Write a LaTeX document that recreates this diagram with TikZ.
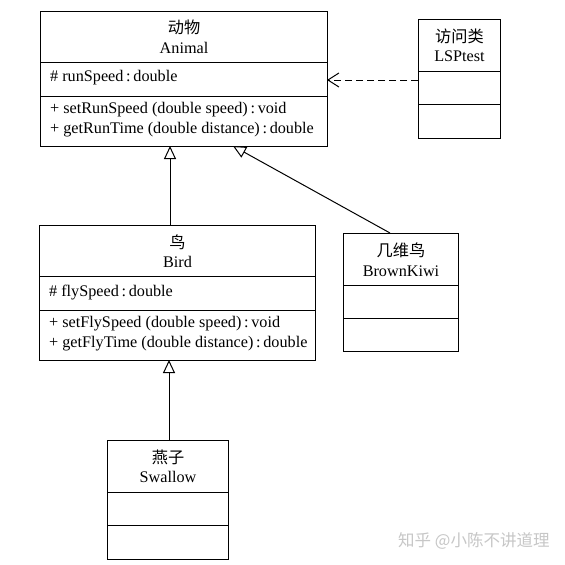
\documentclass[tikz,border=0pt]{standalone}
\usepackage{fontspec}
\setmainfont{Liberation Serif}
\newfontfamily\cjk{Noto Sans CJK SC}
\usetikzlibrary{arrows.meta}
\begin{document}
\begin{tikzpicture}[x=1pt,y=-1pt,
  comp/.style={draw, line width=1pt, anchor=north west, inner sep=0pt},
  lbl/.style={anchor=west, inner sep=0pt, font=\fontsize{16.2}{19}\selectfont},
  ttl/.style={align=center, inner sep=0pt, font=\fontsize{16.2}{19.5}\selectfont},
  inh/.style={draw, line width=1pt, -{Triangle[open, length=13pt, width=12pt, line width=1pt]}},
  dep/.style={draw, line width=1pt, dash pattern=on 7pt off 4pt, -{Straight Barb[length=11pt, width=14pt, line width=1pt]}}]
\fill[white] (0,0) rectangle (565,565);
\useasboundingbox (0,0) rectangle (565,565);
% Animal
\node[comp, minimum width=287pt, minimum height=51pt] (aT) at (40,11) {};
\node[comp, minimum width=287pt, minimum height=34pt] (aA) at (40,62) {};
\node[comp, minimum width=287pt, minimum height=50pt] (aM) at (40,96) {};
\node[ttl] (aTt) at (aT.center) {{\cjk 动物}\\Animal};
\node[lbl] (aAt) at (50,78) {\# runSpeed\,:\,double};
\node[lbl] (aM1) at (50,110) {+ setRunSpeed (double speed)\,:\,void};
\node[lbl] (aM2) at (50,130) {+ getRunTime (double distance)\,:\,double};
% LSPtest
\node[comp, minimum width=82pt, minimum height=52pt] (lT) at (418,19) {};
\node[comp, minimum width=82pt, minimum height=33pt] (lA) at (418,71) {};
\node[comp, minimum width=82pt, minimum height=34pt] (lM) at (418,104) {};
\node[ttl] (lTt) at (lT.center) {{\cjk 访问类}\\LSPtest};
% Bird
\node[comp, minimum width=276pt, minimum height=51pt] (bT) at (39,225) {};
\node[comp, minimum width=276pt, minimum height=34pt] (bA) at (39,276) {};
\node[comp, minimum width=276pt, minimum height=50pt] (bM) at (39,310) {};
\node[ttl] (bTt) at (bT.center) {{\cjk 鸟}\\Bird};
\node[lbl] (bAt) at (49,293) {\# flySpeed\,:\,double};
\node[lbl] (bM1) at (49,324) {+ setFlySpeed (double speed)\,:\,void};
\node[lbl] (bM2) at (49,344) {+ getFlyTime (double distance)\,:\,double};
% BrownKiwi
\node[comp, minimum width=115pt, minimum height=52pt] (kT) at (343,233) {};
\node[comp, minimum width=115pt, minimum height=33pt] (kA) at (343,285) {};
\node[comp, minimum width=115pt, minimum height=33pt] (kM) at (343,318) {};
\node[ttl] (kTt) at (kT.center) {{\cjk 几维鸟}\\BrownKiwi};
% Swallow
\node[comp, minimum width=121pt, minimum height=52pt] (sT) at (107,440) {};
\node[comp, minimum width=121pt, minimum height=33pt] (sA) at (107,492) {};
\node[comp, minimum width=121pt, minimum height=34pt] (sM) at (107,525) {};
\node[ttl] (sTt) at (sT.center) {{\cjk 燕子}\\Swallow};
% connectors
\coordinate (aB1) at (170,146);
\coordinate (aB2) at (233,146);
\coordinate (bTop) at (170,225);
\coordinate (kTop) at (390,233);
\coordinate (bB) at (169,360);
\coordinate (sTop) at (169,440);
\coordinate (aR) at (327,80);
\coordinate (lL) at (418,80);
\draw[inh] (bTop) -- (aB1);
\draw[inh] (kTop) -- (aB2);
\draw[inh] (sTop) -- (bB);
\draw[dep] (lL) -- (aR);
% watermark
\node[anchor=west, inner sep=0pt, text=black!22, font=\cjk\fontsize{16.5}{19}\selectfont] (wm) at (398,541) {知乎 @小陈不讲道理};
\end{tikzpicture}
\end{document}
